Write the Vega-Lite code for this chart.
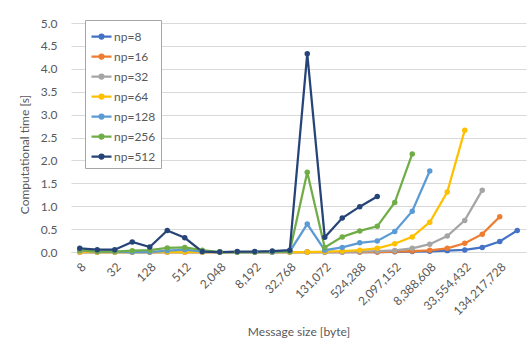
{
  "$schema": "https://vega.github.io/schema/vega-lite/v6.json",
  "width": 455,
  "height": 229,
  "autosize": {"type": "none"},
  "padding": {"left": 71, "top": 23, "right": 6, "bottom": 97},
  "background": "white",
  "config": {
    "font": "Lato",
    "view": {"stroke": null},
    "axis": {"labelColor": "#595959", "titleColor": "#595959", "labelFontSize": 12, "titleFontSize": 12, "titleFontWeight": "normal", "labelFont": "Lato", "titleFont": "Lato"},
    "legend": {"labelColor": "#595959", "labelFontSize": 12, "labelFont": "Lato"}
  },
  "data": {"values": [
    {"size":8,"np":8,"time":0},{"size":16,"np":8,"time":0},{"size":32,"np":8,"time":0},{"size":64,"np":8,"time":0},{"size":128,"np":8,"time":0},{"size":256,"np":8,"time":0},{"size":512,"np":8,"time":0},{"size":1024,"np":8,"time":0},{"size":2048,"np":8,"time":0},{"size":4096,"np":8,"time":0},{"size":8192,"np":8,"time":0},{"size":16384,"np":8,"time":0},{"size":32768,"np":8,"time":0},{"size":65536,"np":8,"time":0},{"size":131072,"np":8,"time":0},{"size":262144,"np":8,"time":0},{"size":524288,"np":8,"time":0},{"size":1048576,"np":8,"time":0},{"size":2097152,"np":8,"time":0.005},{"size":4194304,"np":8,"time":0.01},{"size":8388608,"np":8,"time":0.015},{"size":16777216,"np":8,"time":0.03},{"size":33554432,"np":8,"time":0.045},{"size":67108864,"np":8,"time":0.1},{"size":134217728,"np":8,"time":0.23},{"size":268435456,"np":8,"time":0.47},
    {"size":8,"np":16,"time":0},{"size":16,"np":16,"time":0},{"size":32,"np":16,"time":0},{"size":64,"np":16,"time":0},{"size":128,"np":16,"time":0},{"size":256,"np":16,"time":0},{"size":512,"np":16,"time":0},{"size":1024,"np":16,"time":0},{"size":2048,"np":16,"time":0},{"size":4096,"np":16,"time":0},{"size":8192,"np":16,"time":0},{"size":16384,"np":16,"time":0},{"size":32768,"np":16,"time":0},{"size":65536,"np":16,"time":0},{"size":131072,"np":16,"time":0},{"size":262144,"np":16,"time":0},{"size":524288,"np":16,"time":0},{"size":1048576,"np":16,"time":0},{"size":2097152,"np":16,"time":0.01},{"size":4194304,"np":16,"time":0.02},{"size":8388608,"np":16,"time":0.036},{"size":16777216,"np":16,"time":0.08},{"size":33554432,"np":16,"time":0.19},{"size":67108864,"np":16,"time":0.39},{"size":134217728,"np":16,"time":0.77},
    {"size":8,"np":32,"time":0},{"size":16,"np":32,"time":0},{"size":32,"np":32,"time":0},{"size":64,"np":32,"time":0},{"size":128,"np":32,"time":0},{"size":256,"np":32,"time":0},{"size":512,"np":32,"time":0},{"size":1024,"np":32,"time":0},{"size":2048,"np":32,"time":0},{"size":4096,"np":32,"time":0},{"size":8192,"np":32,"time":0},{"size":16384,"np":32,"time":0},{"size":32768,"np":32,"time":0},{"size":65536,"np":32,"time":0},{"size":131072,"np":32,"time":0},{"size":262144,"np":32,"time":0},{"size":524288,"np":32,"time":0.01},{"size":1048576,"np":32,"time":0.02},{"size":2097152,"np":32,"time":0.035},{"size":4194304,"np":32,"time":0.08},{"size":8388608,"np":32,"time":0.17},{"size":16777216,"np":32,"time":0.35},{"size":33554432,"np":32,"time":0.69},{"size":67108864,"np":32,"time":1.35},
    {"size":8,"np":64,"time":0},{"size":16,"np":64,"time":0},{"size":32,"np":64,"time":0},{"size":64,"np":64,"time":0},{"size":128,"np":64,"time":0},{"size":256,"np":64,"time":0},{"size":512,"np":64,"time":0},{"size":1024,"np":64,"time":0},{"size":2048,"np":64,"time":0},{"size":4096,"np":64,"time":0},{"size":8192,"np":64,"time":0},{"size":16384,"np":64,"time":0},{"size":32768,"np":64,"time":0},{"size":65536,"np":64,"time":0},{"size":131072,"np":64,"time":0.01},{"size":262144,"np":64,"time":0.02},{"size":524288,"np":64,"time":0.04},{"size":1048576,"np":64,"time":0.08},{"size":2097152,"np":64,"time":0.18},{"size":4194304,"np":64,"time":0.33},{"size":8388608,"np":64,"time":0.65},{"size":16777216,"np":64,"time":1.31},{"size":33554432,"np":64,"time":2.66},
    {"size":8,"np":128,"time":0.03},{"size":16,"np":128,"time":0.01},{"size":32,"np":128,"time":0.01},{"size":64,"np":128,"time":0},{"size":128,"np":128,"time":0},{"size":256,"np":128,"time":0.03},{"size":512,"np":128,"time":0.05},{"size":1024,"np":128,"time":0.01},{"size":2048,"np":128,"time":0},{"size":4096,"np":128,"time":0},{"size":8192,"np":128,"time":0},{"size":16384,"np":128,"time":0},{"size":32768,"np":128,"time":0.01},{"size":65536,"np":128,"time":0.61},{"size":131072,"np":128,"time":0.04},{"size":262144,"np":128,"time":0.1},{"size":524288,"np":128,"time":0.2},{"size":1048576,"np":128,"time":0.24},{"size":2097152,"np":128,"time":0.45},{"size":4194304,"np":128,"time":0.89},{"size":8388608,"np":128,"time":1.77},
    {"size":8,"np":256,"time":0.04},{"size":16,"np":256,"time":0.01},{"size":32,"np":256,"time":0.01},{"size":64,"np":256,"time":0.03},{"size":128,"np":256,"time":0.04},{"size":256,"np":256,"time":0.09},{"size":512,"np":256,"time":0.1},{"size":1024,"np":256,"time":0.04},{"size":2048,"np":256,"time":0},{"size":4096,"np":256,"time":0},{"size":8192,"np":256,"time":0},{"size":16384,"np":256,"time":0.01},{"size":32768,"np":256,"time":0.01},{"size":65536,"np":256,"time":1.74},{"size":131072,"np":256,"time":0.1},{"size":262144,"np":256,"time":0.33},{"size":524288,"np":256,"time":0.46},{"size":1048576,"np":256,"time":0.56},{"size":2097152,"np":256,"time":1.08},{"size":4194304,"np":256,"time":2.14},
    {"size":8,"np":512,"time":0.08},{"size":16,"np":512,"time":0.05},{"size":32,"np":512,"time":0.05},{"size":64,"np":512,"time":0.22},{"size":128,"np":512,"time":0.11},{"size":256,"np":512,"time":0.47},{"size":512,"np":512,"time":0.31},{"size":1024,"np":512,"time":0.01},{"size":2048,"np":512,"time":0},{"size":4096,"np":512,"time":0.01},{"size":8192,"np":512,"time":0.01},{"size":16384,"np":512,"time":0.02},{"size":32768,"np":512,"time":0.04},{"size":65536,"np":512,"time":4.33},{"size":131072,"np":512,"time":0.32},{"size":262144,"np":512,"time":0.74},{"size":524288,"np":512,"time":0.99},{"size":1048576,"np":512,"time":1.21}
  ]},
  "mark": {"type": "line", "strokeWidth": 2.25, "point": {"filled": true, "size": 30}},
  "encoding": {
    "x": {
      "field": "size", "type": "ordinal", "sort": "ascending",
      "scale": {"padding": 0.5},
      "axis": {
        "title": "Message size [byte]",
        "values": [8, 32, 128, 512, 2048, 8192, 32768, 131072, 524288, 2097152, 8388608, 33554432, 134217728],
        "labelExpr": "format(datum.value, ',')",
        "labelAngle": -45,
        "labelPadding": 9,
        "ticks": false,
        "grid": false,
        "domain": true,
        "domainColor": "#D9D9D9",
        "domainWidth": 1,
        "titlePadding": 10
      }
    },
    "y": {
      "field": "time", "type": "quantitative",
      "scale": {"domain": [0, 5], "nice": false},
      "axis": {
        "title": "Computational time [s]",
        "values": [0, 0.5, 1, 1.5, 2, 2.5, 3, 3.5, 4, 4.5, 5],
        "format": ".1f",
        "domain": false,
        "ticks": false,
        "gridColor": "#D9D9D9",
        "gridWidth": 1,
        "labelPadding": 14,
        "titlePadding": 9,
        "titleY": 131
      }
    },
    "color": {
      "field": "np", "type": "nominal",
      "scale": {"domain": [8, 16, 32, 64, 128, 256, 512], "range": ["#4472C4", "#ED7D31", "#A5A5A5", "#FFC000", "#5B9BD5", "#70AD47", "#264478"]},
      "legend": {
        "title": null,
        "orient": "none",
        "legendX": 14,
        "legendY": -3,
        "labelExpr": "'np=' + datum.label",
        "symbolType": "M-1,0L1,0M-0.2,0A0.2,0.2,0,1,1,0.2,0A0.2,0.2,0,1,1,-0.2,0",
        "symbolSize": 400,
        "symbolStrokeWidth": 2.25,
        "labelOffset": 1,
        "rowPadding": 2,
        "padding": 5,
        "strokeColor": "#A6A6A6",
        "fillColor": "white"
      }
    }
  }
}
